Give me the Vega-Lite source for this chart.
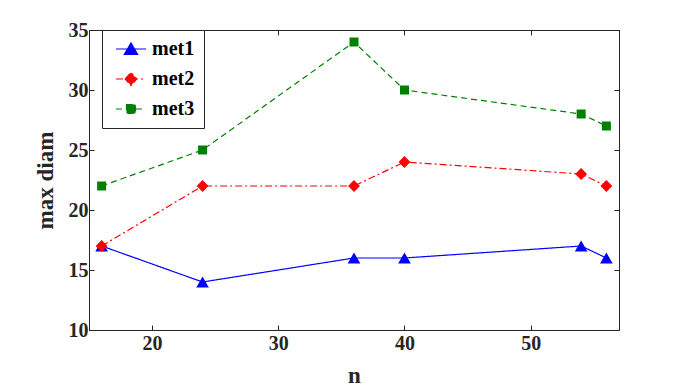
{
  "$schema": "https://vega.github.io/schema/vega-lite/v6.json",
  "width": 530,
  "height": 300,
  "autosize": {"type": "none"},
  "padding": {"left": 89, "top": 30, "right": 65, "bottom": 62},
  "background": "white",
  "config": {
    "font": "Liberation Serif",
    "view": {"stroke": "#262626", "strokeWidth": 1},
    "axis": {
      "grid": false,
      "domainColor": "#262626",
      "tickColor": "#262626",
      "labelColor": "#262626",
      "titleColor": "#262626",
      "labelFont": "Liberation Serif",
      "titleFont": "Liberation Serif",
      "labelFontSize": 20,
      "labelFontWeight": "bold",
      "titleFontSize": 23,
      "titleFontWeight": "bold",
      "tickSize": -5,
      "domainWidth": 1,
      "tickWidth": 1
    }
  },
  "data": {
    "values": [
      {"series": "met1", "n": 16, "v": 17},
      {"series": "met1", "n": 24, "v": 14},
      {"series": "met1", "n": 36, "v": 16},
      {"series": "met1", "n": 40, "v": 16},
      {"series": "met1", "n": 54, "v": 17},
      {"series": "met1", "n": 56, "v": 16},
      {"series": "met2", "n": 16, "v": 17},
      {"series": "met2", "n": 24, "v": 22},
      {"series": "met2", "n": 36, "v": 22},
      {"series": "met2", "n": 40, "v": 24},
      {"series": "met2", "n": 54, "v": 23},
      {"series": "met2", "n": 56, "v": 22},
      {"series": "met3", "n": 16, "v": 22},
      {"series": "met3", "n": 24, "v": 25},
      {"series": "met3", "n": 36, "v": 34},
      {"series": "met3", "n": 40, "v": 30},
      {"series": "met3", "n": 54, "v": 28},
      {"series": "met3", "n": 56, "v": 27}
    ]
  },
  "encoding": {
    "color": {
      "field": "series",
      "type": "nominal",
      "scale": {"domain": ["met1", "met2", "met3"], "range": ["#0000ff", "#ff0000", "#008000"]},
      "legend": {
        "title": null,
        "orient": "none",
        "legendX": 13,
        "legendY": 0,
        "fillColor": "white",
        "strokeColor": "#262626",
        "padding": 9,
        "rowPadding": 10,
        "labelFont": "Liberation Serif",
        "labelFontSize": 20,
        "labelFontWeight": "bold",
        "labelColor": "black",
        "symbolSize": 100,
        "symbolStrokeWidth": 1.2,
        "symbolOffset": 10,
        "labelOffset": 11,
        "encode": {
          "symbols": {
            "update": {
              "shape": {"signal": "datum.value === 'met1' ? 'M-3,0L3,0M0,-1.2L1.35,1.1L-1.35,1.1Z' : datum.value === 'met2' ? 'M-3,0L3,0M-1.15,0L0,-1.3L1.15,0L0,1.3Z' : 'M-3,0L3,0M-0.9,-0.9L0.9,-0.9L0.9,0.9L-0.9,0.9Z'"},
              "strokeDash": {"signal": "datum.value === 'met1' ? [1,0] : datum.value === 'met2' ? [6,3,2,3] : [6,4]"},
              "fill": {"signal": "scale('color', datum.value)"},
              "stroke": {"signal": "scale('color', datum.value)"},
              "strokeWidth": {"value": 1.2},
              "opacity": {"value": 1},
              "strokeOpacity": {"value": 1}
            }
          }
        }
      }
    }
  },
  "layer": [
    {
      "mark": {"type": "line", "strokeWidth": 1.2},
      "encoding": {
        "x": {"field": "n", "type": "quantitative", "scale": {"domain": [15, 57], "nice": false, "zero": false}, "axis": {"orient": "bottom", "values": [20, 30, 40, 50], "title": "n", "labelPadding": 8, "titlePadding": 11}},
        "y": {"field": "v", "type": "quantitative", "scale": {"domain": [10, 35], "nice": false, "zero": false}, "axis": {"orient": "left", "values": [10, 15, 20, 25, 30, 35], "title": "max diam", "labelPadding": 6, "titlePadding": 11}},
        "strokeDash": {
          "field": "series",
          "type": "nominal",
          "scale": {"domain": ["met1", "met2", "met3"], "range": [[1, 0], [7, 3, 2, 3], [6, 4]]},
          "legend": null
        }
      }
    },
    {
      "transform": [{"filter": "datum.series === 'met1'"}],
      "mark": {"type": "point", "filled": true, "opacity": 1, "shape": "triangle-up", "size": 160},
      "encoding": {
        "x": {"field": "n", "type": "quantitative", "axis": {"orient": "top", "values": [20, 30, 40, 50], "labels": false, "title": null}},
        "y": {"field": "v", "type": "quantitative", "axis": {"orient": "right", "values": [10, 15, 20, 25, 30, 35], "labels": false, "title": null}}
      }
    },
    {
      "transform": [{"filter": "datum.series === 'met2'"}],
      "mark": {"type": "point", "filled": true, "opacity": 1, "shape": "diamond", "size": 140},
      "encoding": {
        "x": {"field": "n", "type": "quantitative", "axis": null},
        "y": {"field": "v", "type": "quantitative", "axis": null}
      }
    },
    {
      "transform": [{"filter": "datum.series === 'met3'"}],
      "mark": {"type": "point", "filled": true, "opacity": 1, "shape": "square", "size": 81},
      "encoding": {
        "x": {"field": "n", "type": "quantitative", "axis": null},
        "y": {"field": "v", "type": "quantitative", "axis": null}
      }
    }
  ],
  "resolve": {"axis": {"x": "independent", "y": "independent"}}
}
